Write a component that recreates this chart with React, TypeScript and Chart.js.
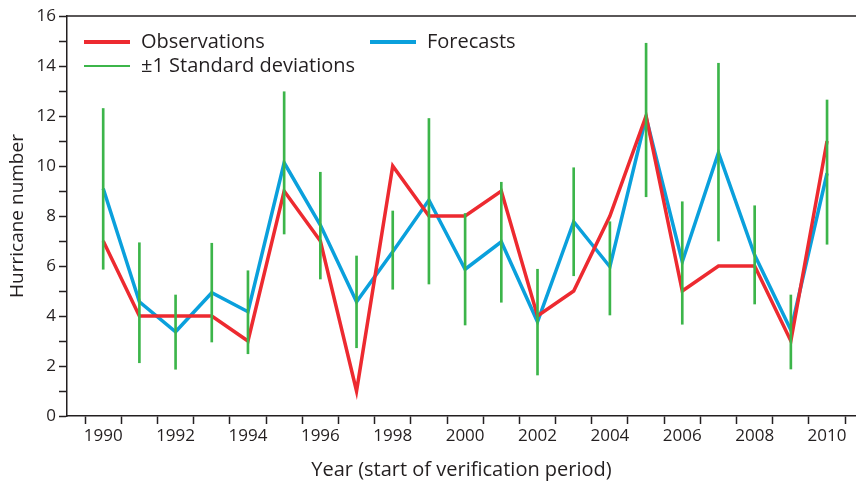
import React, { useEffect, useRef } from "react";
import { Chart, registerables } from "chart.js";

Chart.register(...registerables);

const years = [1990, 1991, 1992, 1993, 1994, 1995, 1996, 1997, 1998, 1999, 2000, 2001, 2002, 2003, 2004, 2005, 2006, 2007, 2008, 2009, 2010];
const observations = [7, 4, 4, 4, 3, 9, 7, 1, 10, 8, 8, 9, 4, 5, 8, 12, 5, 6, 6, 3, 11];
const forecasts = [9.1, 4.57, 3.37, 4.93, 4.17, 10.13, 7.64, 4.57, 6.57, 8.64, 5.87, 6.97, 3.77, 7.77, 5.97, 11.95, 6.17, 10.53, 6.44, 3.44, 9.71];
const sdLow = [5.87, 2.13, 1.87, 2.96, 2.49, 7.28, 5.48, 2.73, 5.07, 5.28, 3.64, 4.55, 1.64, 5.61, 4.04, 8.77, 3.67, 7.0, 4.48, 1.88, 6.87];
const sdHigh = [12.3, 6.93, 4.84, 6.91, 5.81, 12.97, 9.75, 6.4, 8.2, 11.9, 8.1, 9.35, 5.87, 9.93, 7.77, 14.91, 8.57, 14.11, 8.41, 4.84, 12.64];
const yTickLabels = ["0", "2", "4", "6", "8", "10", "12", "14", "16"];

const RED = "#ed2a30";
const BLUE = "#0aa0dc";
const GREEN = "#3cb54a";
const TEXT = "#231f20";
const FONT = "'Open Sans', sans-serif";

const overlayPlugin = {
  id: "overlay",
  afterDraw(chart: any) {
    const { ctx, chartArea } = chart;
    ctx.save();
    // top border
    ctx.strokeStyle = TEXT;
    ctx.lineWidth = 1.5;
    ctx.beginPath();
    ctx.moveTo(chartArea.left, chartArea.top);
    ctx.lineTo(chartArea.right, chartArea.top);
    ctx.stroke();
    // legend
    const items = [
      { c: RED, w: 4, t: "Observations", x: 84, y: 42 },
      { c: GREEN, w: 2, t: "\u00b11 Standard deviations", x: 84, y: 66 },
      { c: BLUE, w: 4, t: "Forecasts", x: 370, y: 42 },
    ];
    ctx.font = `20px ${FONT}`;
    ctx.textBaseline = "middle";
    ctx.fillStyle = TEXT;
    for (const it of items) {
      ctx.strokeStyle = it.c;
      ctx.lineWidth = it.w;
      ctx.beginPath();
      ctx.moveTo(it.x, it.y);
      ctx.lineTo(it.x + 46, it.y);
      ctx.stroke();
      ctx.fillText(it.t, it.x + 57, it.y);
    }
    ctx.restore();
  },
};

export default function App() {
  const ref = useRef<HTMLCanvasElement | null>(null);
  useEffect(() => {
    if (!ref.current) return;
    const chart = new Chart(ref.current, {
      type: "line",
      data: {
        datasets: [
          {
            type: "bar",
            label: "\u00b11 Standard deviations",
            data: years.map((y, i) => ({ x: y, y: [sdLow[i], sdHigh[i]] })) as any,
            backgroundColor: GREEN,
            borderWidth: 0,
            barThickness: 2,
            order: 0,
          } as any,
          {
            label: "Observations",
            data: years.map((y, i) => ({ x: y, y: observations[i] })),
            borderColor: RED,
            borderWidth: 3.5,
            pointRadius: 0,
            tension: 0,
            order: 1,
          },
          {
            label: "Forecasts",
            data: years.map((y, i) => ({ x: y, y: forecasts[i] })),
            borderColor: BLUE,
            borderWidth: 3.5,
            pointRadius: 0,
            tension: 0,
            order: 2,
          },
        ],
      },
      options: {
        animation: false,
        responsive: false,
        layout: { padding: { top: 16, right: 0, left: 0, bottom: 0 } },
        plugins: { legend: { display: false }, tooltip: { enabled: false } },
        scales: {
          x: {
            type: "linear",
            min: 1989,
            max: 2010.8,
            offset: false,
            afterFit(scale: any) {
              scale.height = 67;
            },
            afterBuildTicks(scale: any) {
              const t = [];
              for (let v = 1989; v <= 2010; v++) t.push({ value: v });
              scale.ticks = t;
            },
            ticks: {
              autoSkip: false,
              maxRotation: 0,
              padding: 2,
              color: TEXT,
              font: { family: FONT, size: 17 },
              callback: (v: any) => (Number(v) % 2 === 0 ? String(v) : ""),
            },
            grid: { drawOnChartArea: false, tickLength: 8, color: TEXT, tickWidth: 1.5 },
            border: { color: TEXT, width: 1.5 },
            title: {
              display: true,
              text: "Year (start of verification period)",
              color: TEXT,
              font: { family: FONT, size: 20 },
              padding: { top: 0, bottom: 1 },
            },
          },
          y: {
            min: 0,
            max: 16,
            afterFit(scale: any) {
              scale.width = 67;
            },
            ticks: {
              stepSize: 1,
              autoSkip: false,
              padding: 3,
              color: TEXT,
              font: { family: FONT, size: 17 },
              callback: (v: any) => (Number(v) % 2 === 0 ? yTickLabels[Number(v) / 2] : ""),
            },
            grid: { drawOnChartArea: false, tickLength: 8, color: TEXT, tickWidth: 1.5 },
            border: { color: TEXT, width: 1.5 },
            title: {
              display: true,
              text: "Hurricane number",
              color: TEXT,
              font: { family: FONT, size: 19 },
              padding: { top: 6, bottom: 0 },
            },
          },
        },
      },
      plugins: [overlayPlugin],
    } as any);
    return () => chart.destroy();
  }, []);
  return (
    <div style={{ position: "fixed", left: 0, top: 0, width: 856, height: 483, background: "#fff" }}>
      <canvas ref={ref} width={856} height={483} style={{ width: 856, height: 483 }} />
    </div>
  );
}
